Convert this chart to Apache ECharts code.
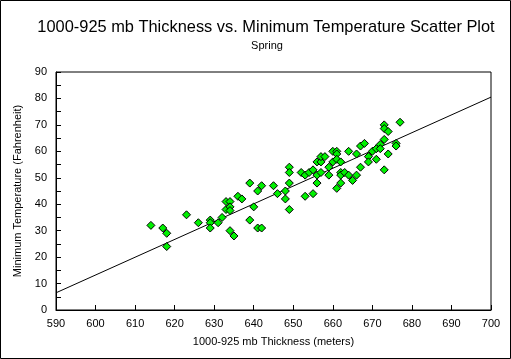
<!DOCTYPE html>
<html>
<head>
<meta charset="utf-8">
<script src="https://cdn.jsdelivr.net/npm/echarts@6/dist/echarts.min.js"></script>
<style>html,body{margin:0;padding:0;background:#fff}#c{width:511px;height:359px}</style>
</head>
<body>
<div id="c"></div>
<script>
var thickness = [614,617,618,618,623,626,629,629,629,631,632,633,634,633,634,634,634,635,636,637,639,639,640,641,641,642,642,645,646,648,648,649,649,649,649,652,653,653,654,655,655,656,656,657,656,657,657,658,659,659,660,661,661,660,661,662,661,662,662,662,663,664,664,665,666,666,667,667,668,669,669,670,671,671,672,672,673,673,673,674,674,673,676,676,677];
var minTemp = [32,31,29,24,36,33,34,33,31,33,35,41,41,38,39,37.6,30,28,43,42,48,34,39,45,31,31,47,47,44,45,42,38,54,52,48,52,51,43,52,53,44,51,48,52,56,56,58,58,54,51,60,60,59,56,57,56,46,52,51,48,52,60,51,49,59,51,62,54,63,58,56,60,61,57,62.6,61,64.5,70,68.6,67.5,59,53,63,62,71];
var trendX = [590, 700];
var trendY = [6.5, 80.5];
var xTicks = [590,600,610,620,630,640,650,660,670,680,690,700];
var yTicks = [0,10,20,30,40,50,60,70,80,90];

var pts = thickness.map(function(x,i){return [x, minTemp[i]];});
var line = trendX.map(function(x,i){return [x, trendY[i]];});
var font = 'Liberation Sans, Arial, sans-serif';
var chart = echarts.init(document.getElementById('c'));
chart.setOption({
  animation: false,
  backgroundColor: '#fff',
  title: [
    {text: '1000-925 mb Thickness vs. Minimum Temperature Scatter Plot', left: 261, top: 14, textAlign: 'center',
     textStyle: {fontFamily: font, fontSize: 16.4, fontWeight: 'normal', color: '#000'}},
    {text: 'Spring', left: 262, top: 35, textAlign: 'center',
     textStyle: {fontFamily: font, fontSize: 11, fontWeight: 'normal', color: '#000'}}
  ],
  graphic: [{type: 'rect', shape: {x: 0.5, y: 0.5, width: 510, height: 358}, style: {fill: 'none', stroke: '#000', lineWidth: 1}, silent: true}],
  grid: {left: 56, right: 20, top: 72, bottom: 49, show: true, borderColor: '#000', borderWidth: 1, backgroundColor: 'transparent'},
  xAxis: {
    type: 'value', min: xTicks[0], max: xTicks[xTicks.length-1], interval: 10,
    name: '1000-925 mb Thickness (meters)', nameLocation: 'middle', nameGap: 26,
    nameTextStyle: {fontFamily: font, fontSize: 11, color: '#000'},
    axisLine: {show: true, lineStyle: {color: '#000', width: 1}},
    axisTick: {show: true, inside: true, length: 5, lineStyle: {color: '#000'}},
    axisLabel: {fontFamily: font, fontSize: 11, color: '#000', margin: 8},
    splitLine: {show: false}
  },
  yAxis: {
    type: 'value', min: yTicks[0], max: yTicks[yTicks.length-1], interval: 10,
    name: 'Minimum Temperature (Fahrenheit)', nameLocation: 'middle', nameGap: 20,
    nameTextStyle: {fontFamily: font, fontSize: 11, color: '#000'},
    axisLine: {show: true, lineStyle: {color: '#000', width: 1}},
    axisTick: {show: true, inside: true, length: 5, lineStyle: {color: '#000'}},
    minorTick: {show: true, splitNumber: 2, length: 5, lineStyle: {color: '#000'}},
    axisLabel: {fontFamily: font, fontSize: 11, color: '#000', margin: 9},
    splitLine: {show: false}
  },
  series: [
    {type: 'line', data: line, showSymbol: false, symbol: 'none', lineStyle: {color: '#000', width: 1}, z: 2},
    {type: 'scatter', data: pts, symbol: 'diamond', symbolSize: 8,
     itemStyle: {color: '#00f000', borderColor: '#000', borderWidth: 1, opacity: 1}, z: 3}
  ]
});
</script>
</body>
</html>
